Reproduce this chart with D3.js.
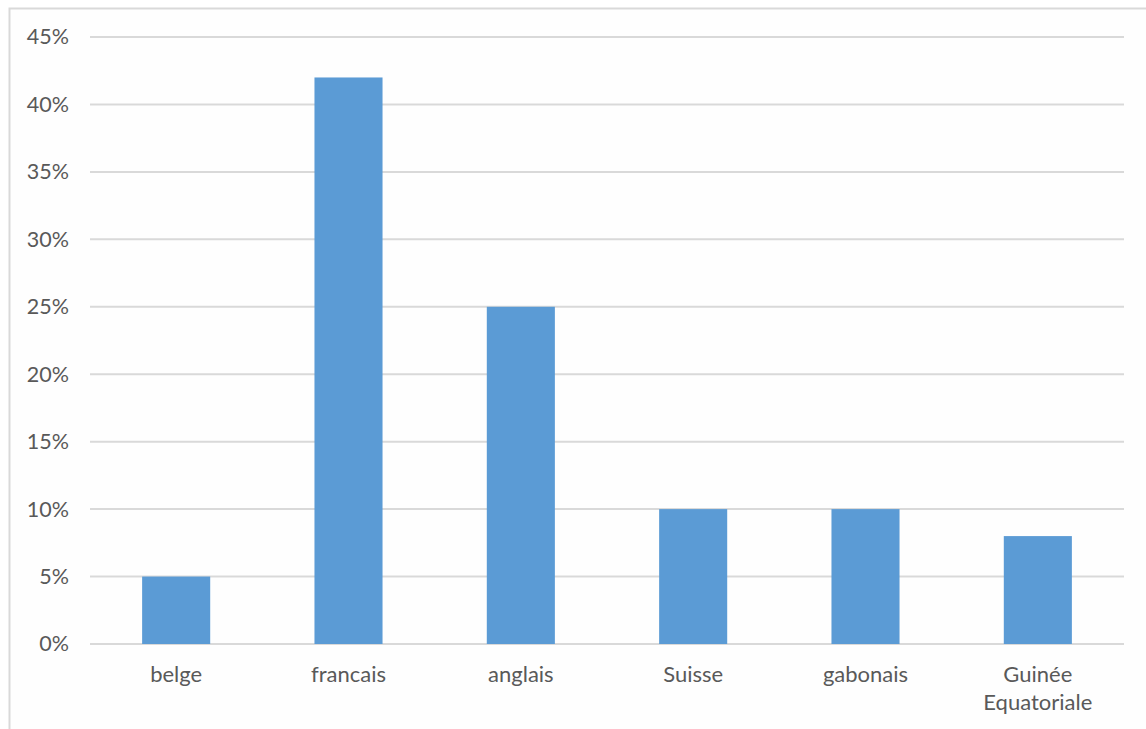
<!DOCTYPE html>
<html>
<head>
<meta charset="utf-8">
<script src="https://cdn.jsdelivr.net/npm/d3@7"></script>
<style>
  html, body { margin: 0; padding: 0; background: #ffffff; }
  svg { display: block; }
  text { font-family: Lato, "Open Sans", sans-serif; fill: #595959; }
</style>
</head>
<body>
<script>
// Nationality shares
const categories = ["belge", "francais", "anglais", "Suisse", "gabonais", "Guinée Equatoriale"];
const shares = [5, 42, 25, 10, 10, 8];
const yTicks = [0, 5, 10, 15, 20, 25, 30, 35, 40, 45];

const W = 1146, H = 729;
const margin = { left: 90, right: 22, top: 37, bottom: 85 };

const svg = d3.select("body").append("svg")
  .attr("width", W).attr("height", H);

// chart frame
svg.append("rect")
  .attr("x", 9.5).attr("y", 8.5)
  .attr("width", W + 20).attr("height", H + 20)
  .attr("fill", "#fefefe")
  .attr("stroke", "#d9d9d9").attr("stroke-width", 2);

const x = d3.scaleBand()
  .domain(categories)
  .range([margin.left, W - margin.right])
  .paddingInner(0.605).paddingOuter(0.3025);

const y = d3.scaleLinear()
  .domain([0, 45])
  .range([H - margin.bottom, margin.top]);

// horizontal gridlines
svg.append("g")
  .selectAll("line")
  .data(yTicks)
  .join("line")
  .attr("x1", margin.left).attr("x2", W - margin.right)
  .attr("y1", d => y(d)).attr("y2", d => y(d))
  .attr("stroke", "#d9d9d9").attr("stroke-width", 2);

// y axis labels
const yAxis = d3.axisLeft(y)
  .tickValues(yTicks)
  .tickFormat(d => d + "%")
  .tickSize(0).tickPadding(21);
const gy = svg.append("g")
  .attr("transform", `translate(${margin.left},0)`)
  .call(yAxis);
gy.select(".domain").remove();
gy.selectAll("text").attr("font-size", 21.5).style("fill", "#595959");

// bars
svg.append("g")
  .selectAll("rect")
  .data(categories)
  .join("rect")
  .attr("x", d => x(d))
  .attr("width", x.bandwidth())
  .attr("y", (d, i) => y(shares[i]))
  .attr("height", (d, i) => y(0) - y(shares[i]))
  .attr("fill", "#5b9bd5");

// x axis labels, wrapped on spaces
const xAxis = d3.axisBottom(x).tickSize(0).tickFormat("");
const gx = svg.append("g")
  .attr("transform", `translate(0,${y(0)})`)
  .call(xAxis);
gx.select(".domain").remove();
gx.selectAll(".tick").each(function (d) {
  const words = d.split(" ");
  const t = d3.select(this).append("text")
    .attr("text-anchor", "middle")
    .attr("font-size", 22)
    .attr("y", 38);
  words.forEach((w, i) => {
    t.append("tspan").attr("x", 0).attr("dy", i === 0 ? 0 : 28).text(w);
  });
});
</script>
</body>
</html>
